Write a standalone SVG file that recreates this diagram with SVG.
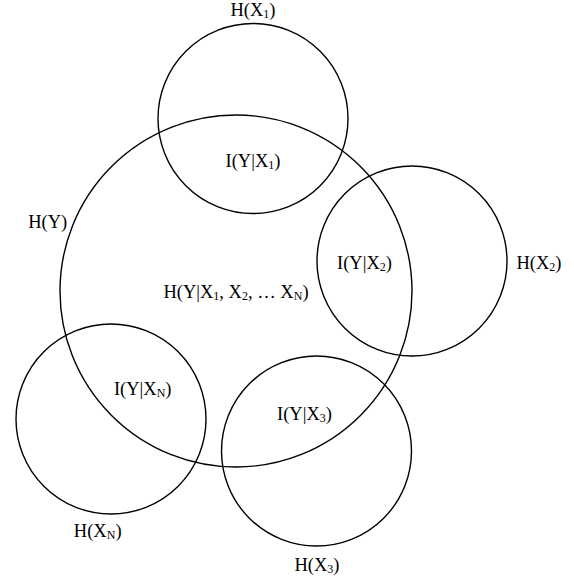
<svg xmlns="http://www.w3.org/2000/svg" width="574" height="579" viewBox="0 0 574 579">
<style>
  .c { fill: none; stroke: #000; stroke-width: 1.4; }
  text { font-family: "Liberation Serif", "Times New Roman", serif; font-size: 18.5px; fill: #000; text-anchor: middle; }
  .s { font-size: 12px; }
</style>
<rect width="574" height="579" fill="#fff"/>
<g id="HY">
  <circle class="c" cx="236" cy="291" r="176"/>
  <text x="47.7" y="228">H(Y)</text>
  <text x="236" y="298">H(Y|X<tspan class="s" dy="2">1</tspan><tspan dy="-2">, X</tspan><tspan class="s" dy="2">2</tspan><tspan dy="-2">, … X</tspan><tspan class="s" dy="2">N</tspan><tspan dy="-2">)</tspan></text>
</g>
<g id="HX1">
  <circle class="c" cx="253" cy="118.5" r="95"/>
  <text x="253" y="16">H(X<tspan class="s" dy="2">1</tspan><tspan dy="-2">)</tspan></text>
  <text x="253" y="167">I(Y|X<tspan class="s" dy="2">1</tspan><tspan dy="-2">)</tspan></text>
</g>
<g id="HX2">
  <circle class="c" cx="412" cy="261" r="95"/>
  <text x="539" y="269">H(X<tspan class="s" dy="2">2</tspan><tspan dy="-2">)</tspan></text>
  <text x="364.5" y="269">I(Y|X<tspan class="s" dy="2">2</tspan><tspan dy="-2">)</tspan></text>
</g>
<g id="HX3">
  <circle class="c" cx="316.5" cy="451" r="95"/>
  <text x="317" y="570.5">H(X<tspan class="s" dy="2">3</tspan><tspan dy="-2">)</tspan></text>
  <text x="304.5" y="420">I(Y|X<tspan class="s" dy="2">3</tspan><tspan dy="-2">)</tspan></text>
</g>
<g id="HXN">
  <circle class="c" cx="111" cy="419" r="95"/>
  <text x="97.7" y="537">H(X<tspan class="s" dy="2">N</tspan><tspan dy="-2">)</tspan></text>
  <text x="142.7" y="395">I(Y|X<tspan class="s" dy="2">N</tspan><tspan dy="-2">)</tspan></text>
</g>
</svg>
